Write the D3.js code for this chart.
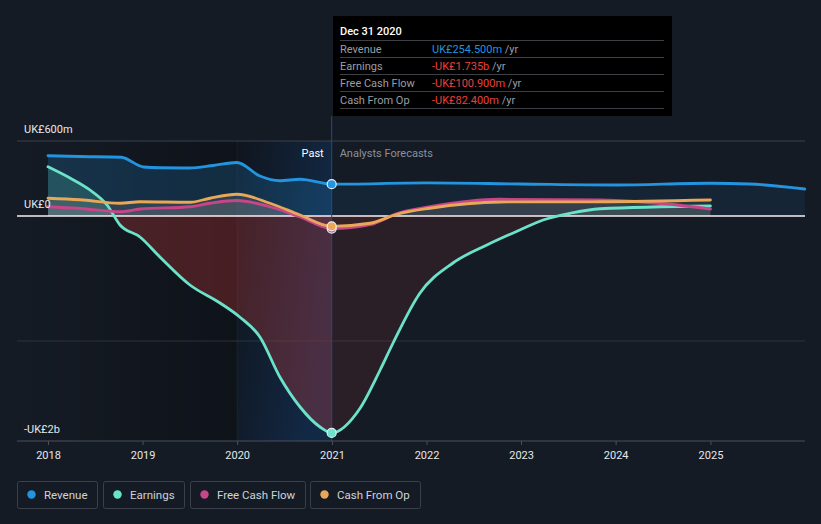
<!DOCTYPE html>
<html><head><meta charset="utf-8">
<script src="https://cdn.jsdelivr.net/npm/d3@7"></script>
<style>
html,body{margin:0;padding:0;background:#151b25;}
svg{display:block;font-family:Roboto,"Noto Sans",sans-serif;}
</style></head>
<body><svg id="c" width="821" height="524"></svg>
<script>
// ---------- data ----------
const revenueDates = ["2018-01-01","2018-05-01","2018-10-10","2019-01-05","2019-03-15","2019-07-01","2019-10-01","2019-12-31","2020-03-29","2020-06-14","2020-08-31","2020-12-31","2021-12-31","2022-12-31","2023-12-31","2024-12-31","2025-06-01","2025-12-31"];
const revenueValues = [482,476,470,392,386,384,404,428,320,282,294,254.5,265,256,248,262,256,216];

const earningsDates = ["2018-01-01","2018-03-27","2018-06-12","2018-08-17","2018-10-06","2018-12-22","2019-03-09","2019-07-03","2019-10-27","2020-01-11","2020-03-29","2020-06-14","2020-08-31","2020-11-16","2020-12-31","2021-04-19","2021-07-06","2021-08-25","2021-12-07","2022-04-13","2022-08-22","2022-12-27","2023-03-27","2023-07-09","2023-11-02","2025-01-01"];
const earningsValues = [394,304,208,88,-72,-168,-328,-552,-696,-808,-968,-1288,-1528,-1688,-1735,-1540,-1232,-1016,-616,-376,-232,-112,-32,22,58,80];

const fcfDates = ["2018-01-01","2018-05-05","2018-10-06","2018-12-22","2019-07-03","2019-09-18","2019-12-31","2020-05-07","2020-08-31","2020-12-31","2021-05-28","2021-09-09","2022-01-14","2022-10-12","2023-11-02","2024-07-17","2025-01-01"];
const fcfValues = [74,60,34,56,74,102,124,74,-8,-100.9,-70,20,74,134,128,96,56];

const cfoDates = ["2018-01-01","2018-05-05","2018-10-06","2018-12-22","2019-07-03","2019-09-18","2019-12-31","2020-05-07","2020-08-31","2020-12-31","2021-05-28","2021-09-09","2022-01-14","2022-10-12","2023-11-02","2025-01-01"];
const cfoValues = [142,130,102,114,110,142,174,102,8,-82.4,-58,14,62,112,114,128];

const yearTicks = [2018,2019,2020,2021,2022,2023,2024,2025];
const yTickValues = [600,0,-1800];
const yTickLabels = ["UK£600m","UK£0","-UK£2b"];
const gridValues = [600,-1000];

const seriesNames = ["Revenue","Earnings","Free Cash Flow","Cash From Op"];
const seriesColors = ["#2394df","#6be3c9","#c8458a","#e8a857"];

const tipTitle = "Dec 31 2020";
const tipValues = ["UK£254.500m","-UK£1.735b","-UK£100.900m","-UK£82.400m"];

// ---------- setup ----------
const parse = d3.timeParse("%Y-%m-%d");
const svg = d3.select("#c");
const W = 821, H = 524;
const x = d3.scaleTime().domain([parse("2018-01-01"), parse("2026-01-01")]).range([48, 805]);
const y = d3.scaleLinear().domain([-1800, 600]).range([441, 141]);
const plotL = 17, plotR = 805, plotT = y(600), plotB = y(-1800);
const nowDate = parse("2020-12-31");
const xNow = x(nowDate), x2020 = x(parse("2020-01-01"));

const mk = (ds, vs) => ds.map((d,i)=>({date:parse(d), v:vs[i]}));
const series = [mk(revenueDates,revenueValues), mk(earningsDates,earningsValues), mk(fcfDates,fcfValues), mk(cfoDates,cfoValues)];

svg.append("rect").attr("width",W).attr("height",H).attr("fill","#151b25");
const defs = svg.append("defs");

const gDark = defs.append("linearGradient").attr("id","gDark").attr("x1","0").attr("x2","1").attr("y1","0").attr("y2","0");
gDark.append("stop").attr("offset","0").attr("stop-color","#000").attr("stop-opacity",0.0);
gDark.append("stop").attr("offset","1").attr("stop-color","#000").attr("stop-opacity",0.32);
const gPast = defs.append("linearGradient").attr("id","gPast").attr("x1","0").attr("x2","1").attr("y1","0").attr("y2","0.4");
gPast.append("stop").attr("offset","0").attr("stop-color","#1e6fd0").attr("stop-opacity",0.02);
gPast.append("stop").attr("offset","1").attr("stop-color","#1e6fd0").attr("stop-opacity",0.24);

// clips
const clip = (id, x0, x1, y0, y1) => defs.append("clipPath").attr("id",id).append("rect").attr("x",x0).attr("y",y0).attr("width",x1-x0).attr("height",y1-y0);
clip("cPastPos", 0, xNow, 0, y(0));
clip("cPastNeg", 0, xNow, y(0), H);
clip("cFutPos", xNow, W, 0, y(0));
clip("cFutNeg", xNow, W, y(0), H);

// background regions
svg.append("rect").attr("x",plotL).attr("y",plotT).attr("width",x2020-plotL).attr("height",plotB-plotT).attr("fill","url(#gDark)");
svg.append("rect").attr("x",x2020).attr("y",plotT).attr("width",xNow-x2020).attr("height",plotB-plotT).attr("fill","#000").attr("opacity",0.28);
svg.append("rect").attr("x",x2020).attr("y",plotT).attr("width",xNow-x2020).attr("height",plotB-plotT).attr("fill","url(#gPast)");
svg.append("line").attr("x1",x2020).attr("x2",x2020).attr("y1",plotT).attr("y2",plotB).attr("stroke","#ffffff").attr("stroke-opacity",0.05);

// gridlines
gridValues.forEach((v,i)=>{
  svg.append("line").attr("x1",plotL).attr("x2",plotR).attr("y1",y(v)).attr("y2",y(v))
    .attr("stroke", i===0 ? "#3b404a" : "#2d323b").attr("stroke-width",1);
});

// areas
const area = d3.area().curve(d3.curveMonotoneX).x(d=>x(d.date)).y0(y(0)).y1(d=>y(d.v));
const line = d3.line().curve(d3.curveMonotoneX).x(d=>x(d.date)).y(d=>y(d.v));
const areaStyles = [
  {pos:"#2394df", neg:"#2394df", pp:0.2, pf:0.09, np:0.0, nf:0.0},
  {pos:"#6be3c9", neg:"#e8413e", pp:0.18, pf:0.08, np:0.26, nf:0.11},
  {pos:"#d8c0c8", neg:"#e8413e", pp:0.13, pf:0.09, np:0.06, nf:0.03},
  {pos:"#d8c8b0", neg:"#e8413e", pp:0.13, pf:0.09, np:0.06, nf:0.03}
];
series.forEach((s,i)=>{
  const st = areaStyles[i];
  [["cPastPos",st.pos,st.pp],["cFutPos",st.pos,st.pf],["cPastNeg",st.neg,st.np],["cFutNeg",st.neg,st.nf]].forEach(([c,col,op])=>{
    if (op<=0) return;
    svg.append("path").attr("d",area(s)).attr("fill",col).attr("fill-opacity",op).attr("clip-path",`url(#${c})`);
  });
});

// zero line
svg.append("line").attr("x1",plotL).attr("x2",plotR).attr("y1",y(0)).attr("y2",y(0)).attr("stroke","#fbeff0").attr("stroke-width",1.5);

// lines
[0,1,2,3].forEach(i=>{
  svg.append("path").attr("d",line(series[i])).attr("fill","none").attr("stroke",seriesColors[i]).attr("stroke-width",2.8).attr("stroke-linejoin","round").attr("stroke-linecap","round");
});

// now line
svg.append("line").attr("x1",xNow).attr("x2",xNow).attr("y1",116).attr("y2",plotB).attr("stroke","#1f4c88").attr("stroke-width",1);

// points at now
series.forEach((s,i)=>{
  const p = s.find(d=>+d.date===+nowDate);
  svg.append("circle").attr("cx",x(p.date)).attr("cy",y(p.v)).attr("r",4.5).attr("fill",seriesColors[i]).attr("stroke","#e8eef5").attr("stroke-width",1.2);
});

// Past / Analysts Forecasts
svg.append("text").attr("x",xNow-8).attr("y",y(600)+16).attr("text-anchor","end").attr("fill","#ffffff").attr("font-size",11).text("Past");
svg.append("text").attr("x",xNow+8).attr("y",y(600)+16).attr("fill","#8b9099").attr("font-size",11).text("Analysts Forecasts");

// y labels
yTickValues.forEach((v,i)=>{
  svg.append("text").attr("x",24).attr("y",y(v)-8).attr("fill","#e6e8ea").attr("font-size",11).text(yTickLabels[i]);
});

// x axis
const axisG = svg.append("g").attr("transform",`translate(0,${plotB})`);
axisG.append("line").attr("x1",plotL).attr("x2",plotR).attr("stroke","#4b505a").attr("stroke-width",1.2);
const xa = d3.axisBottom(x).tickValues(yearTicks.map(yy=>new Date(yy,0,1))).tickFormat(d3.timeFormat("%Y")).tickSize(4).tickPadding(6);
const ax = svg.append("g").attr("transform",`translate(0,${plotB})`).call(xa);
ax.select(".domain").remove();
ax.selectAll(".tick line").attr("stroke","#4b505a");
ax.selectAll(".tick text").attr("fill","#e6e8ea").attr("font-size",11).attr("font-family","Roboto,sans-serif");

// legend
const legX = [17,103,190,310], legW = [80,81,115,110];
seriesNames.forEach((n,i)=>{
  const g = svg.append("g");
  g.append("rect").attr("x",legX[i]+0.5).attr("y",481.5).attr("width",legW[i]).attr("height",27).attr("rx",2).attr("fill","none").attr("stroke","#3a3f49");
  g.append("circle").attr("cx",legX[i]+14.5).attr("cy",494.5).attr("r",4.2).attr("fill",seriesColors[i]);
  g.append("text").attr("x",legX[i]+27).attr("y",498.5).attr("fill","#cfd3d8").attr("font-size",11.5).text(n);
});

// tooltip
const tip = svg.append("g");
tip.append("rect").attr("x",333).attr("y",16).attr("width",339).attr("height",100).attr("fill","#000");
tip.append("text").attr("x",340).attr("y",35).attr("fill","#fff").attr("font-size",11).attr("font-weight",500).text(tipTitle);
const rowY = [48.5,65.5,82.5,99.5];
[40,57,74,91,108].forEach(ly=>tip.append("line").attr("x1",340).attr("x2",664).attr("y1",ly+0.5).attr("y2",ly+0.5).attr("stroke","#3c3f44"));
seriesNames.forEach((n,i)=>{
  tip.append("text").attr("x",340).attr("y",rowY[i]+4).attr("fill","#9a9ea4").attr("font-size",11).text(n);
  const t = tip.append("text").attr("x",432).attr("y",rowY[i]+4).attr("font-size",11);
  t.append("tspan").attr("fill", i===0 ? "#2394df" : "#e8413e").text(tipValues[i]);
  t.append("tspan").attr("fill","#9a9ea4").text(" /yr");
});
</script></body></html>
